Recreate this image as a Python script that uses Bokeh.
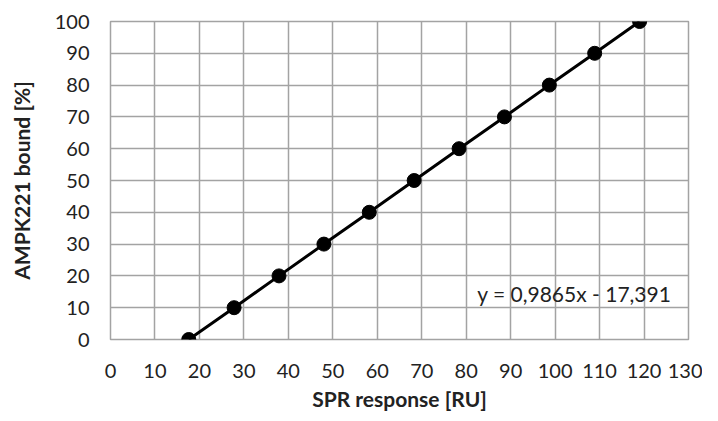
from bokeh.plotting import figure
from bokeh.models import Range1d, FixedTicker, Label
from bokeh.embed import file_html
from bokeh.resources import INLINE

spr_response = [17.6, 27.8, 37.9, 48.0, 58.2, 68.3, 78.4, 88.6, 98.7, 108.9, 119.0]
ampk_bound = [0, 10, 20, 30, 40, 50, 60, 70, 80, 90, 100]
x_ticks = list(range(0, 131, 10))
y_ticks = list(range(0, 101, 10))
equation = "y = 0,9865x - 17,391"

FONT = "Lato"
GRID = "#a3a3a3"

p = figure(width=702, height=413, output_backend="svg", toolbar_location=None,
           x_range=Range1d(0, 130), y_range=Range1d(0, 100),
           min_border_left=110, min_border_right=14, min_border_top=21, min_border_bottom=73)

p.outline_line_color = GRID
p.outline_line_width = 1.5

for ax, ticks in ((p.xaxis[0], x_ticks), (p.yaxis[0], y_ticks)):
    ax.ticker = FixedTicker(ticks=ticks)
    ax.axis_line_color = None
    ax.major_tick_line_color = None
    ax.minor_tick_line_color = None
    ax.major_tick_out = 0
    ax.major_tick_in = 0
    ax.minor_tick_out = 0
    ax.minor_tick_in = 0
    ax.major_label_text_font = FONT
    ax.major_label_text_font_size = "20px"
    ax.major_label_text_color = "#222222"
    ax.axis_label_text_font = FONT
    ax.axis_label_text_font_style = "bold"
    ax.axis_label_text_font_size = "21px"
    ax.axis_label_text_color = "#222222"

p.xaxis.major_label_standoff = 24
p.yaxis.major_label_standoff = 21
p.xaxis.axis_label = "SPR response [RU]"
p.yaxis.axis_label = "AMPK221 bound [%]"
p.xaxis.axis_label_standoff = 5
p.yaxis.axis_label_standoff = 18

p.xgrid.ticker = FixedTicker(ticks=x_ticks)
p.ygrid.ticker = FixedTicker(ticks=y_ticks)
for g in (p.xgrid[0], p.ygrid[0]):
    g.grid_line_color = GRID
    g.grid_line_width = 1.5

p.line(spr_response, ampk_bound, line_color="black", line_width=3)
p.scatter(spr_response, ampk_bound, size=14, fill_color="black", line_color="black")

p.add_layout(Label(x=82.5, y=14.6, text=equation, text_font=FONT, text_font_size="21px",
                   text_color="#222222", text_baseline="middle", text_align="left"))

open("out.html", "w").write(file_html(p, INLINE))
